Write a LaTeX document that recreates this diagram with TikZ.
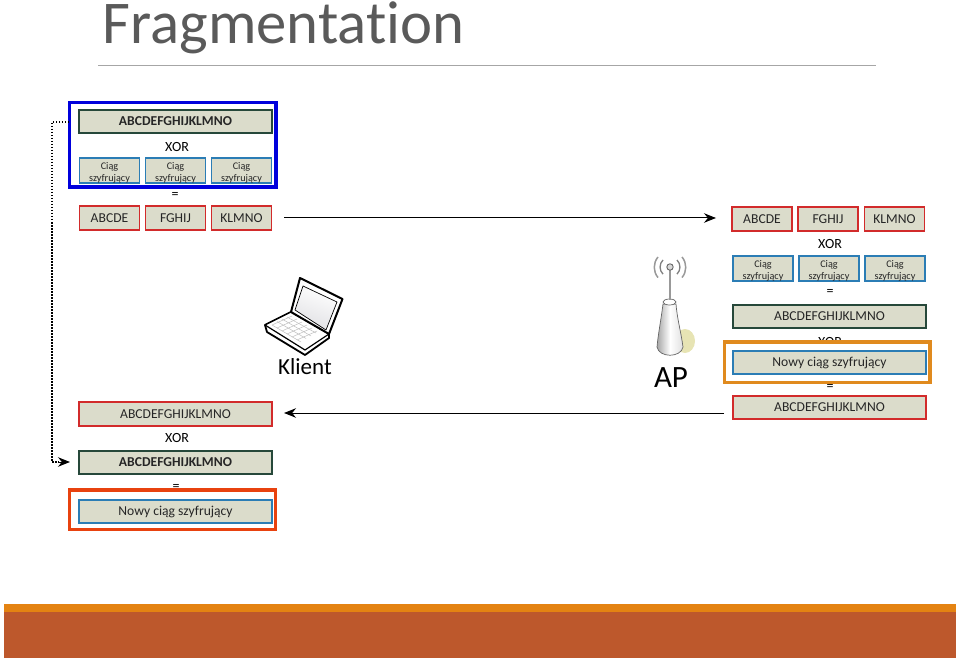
\documentclass[tikz,border=0pt]{standalone}
\usepackage{fontspec}
\setmainfont[Ligatures=NoCommon]{Carlito}
\usetikzlibrary{arrows.meta}
\definecolor{boxfill}{HTML}{DBDCCB}
\definecolor{gborder}{HTML}{26483A}
\definecolor{rborder}{HTML}{D22B2B}
\definecolor{bborder}{HTML}{2B7DB5}
\definecolor{bandtop}{HTML}{E48312}
\definecolor{bandlow}{HTML}{BD582C}
\definecolor{titlecol}{HTML}{5A5A5A}
\definecolor{framered}{HTML}{E8420F}
\definecolor{frameorange}{HTML}{E08A1E}
\definecolor{frameblue}{HTML}{0000DC}
\tikzset{
  bx/.style={draw,fill=boxfill,line width=1.7pt,minimum width=#1,minimum height=23.5pt,inner sep=0pt,text=black!85,font=\fontsize{13.6}{13.6}\selectfont,align=center},
  gbox/.style={bx=#1,draw=gborder,line width=2.2pt},
  rbox/.style={bx=#1,draw=rborder},
  cbox/.style={bx=#1,draw=bborder},
  ciag/.style={cbox=60pt,font=\fontsize{10.2}{12}\selectfont},
  lbl/.style={inner sep=0pt,text=black,font=\fontsize{14}{14}\selectfont},
  frame/.style={line width=3.2pt,fill=#1},
  conn/.style={line width=1pt,-{Stealth[length=12pt,width=9.5pt]}},
  bigl/.style={inner sep=0pt,text=black}
}
\newcommand{\cs}{\rule{0pt}{11pt}Ciąg\\szyfrujący}
\begin{document}
\begin{tikzpicture}[x=1pt,y=-1pt]
\useasboundingbox (0,0) rectangle (960,660);
% title
\node[anchor=base west,inner sep=0pt,text=titlecol,font=\fontsize{60.7}{61}\selectfont] (title) at (102.5,44) {Fragmentation};
\coordinate (ruleL) at (98,65.5); \coordinate (ruleR) at (876,65.5);
\draw[black!35,line width=0.7pt] (ruleL) -- (ruleR);
% bottom band
\fill[bandtop] (4,604) rectangle (956,611.5);
\fill[bandlow] (4,611.5) rectangle (956,658);
% top-left group
\draw[frameblue,line width=3.2pt] (69.5,102.5) rectangle (276,187);
\node[gbox=193pt] (lkey) at (175.5,121.5) {\textbf{ABCDEFGHIJKLMNO}};
\node[lbl] (lxor1) at (177,147) {XOR};
\node[ciag] (lc1) at (109.5,170.5) {\cs};
\node[ciag] (lc2) at (175.5,170.5) {\cs};
\node[ciag] (lc3) at (241.5,170.5) {\cs};
\node[lbl] (leq1) at (175,195) {=};
\node[rbox=60pt] (lr1) at (109.5,218) {ABCDE};
\node[rbox=60pt] (lr2) at (175.5,218) {FGHIJ};
\node[rbox=60pt] (lr3) at (241.5,218) {KLMNO};
% bottom-left group
\node[rbox=193pt] (lres) at (175.5,414) {ABCDEFGHIJKLMNO};
\node[lbl] (lxor2) at (177,438) {XOR};
\node[gbox=193pt] (lkey2) at (175.5,462.5) {\textbf{ABCDEFGHIJKLMNO}};
\node[lbl] (leq2) at (176,487) {=};
\draw[frame=white,draw=framered] (69.5,490) rectangle (275.5,529.5);
\node[cbox=193pt] (lnew) at (175.5,511.5) {Nowy ciąg szyfrujący};
% right group
\node[rbox=60pt] (rr1) at (762,219) {ABCDE};
\node[rbox=60pt] (rr2) at (828,219) {FGHIJ};
\node[rbox=60pt] (rr3) at (894.5,219) {KLMNO};
\node[lbl] (rxor1) at (830,244) {XOR};
\node[ciag] (rc1) at (763,268.5) {\cs};
\node[ciag] (rc2) at (829,268.5) {\cs};
\node[ciag] (rc3) at (895,268.5) {\cs};
\node[lbl] (req1) at (830,292) {=};
\node[gbox=193pt] (rkey) at (829.5,316.5) {ABCDEFGHIJKLMNO};
\node[lbl] (rxor2) at (830,342) {XOR};
\draw[frame=white,draw=frameorange] (724.5,342) rectangle (930,382.5);
\node[cbox=193pt] (rnew) at (829.5,362.5) {Nowy ciąg szyfrujący};
\node[lbl] (req2) at (830,387) {=};
\node[rbox=193pt] (rres) at (829.5,407.5) {ABCDEFGHIJKLMNO};
% connectors
\coordinate (a1s) at (284,218); \coordinate (a1e) at (716,218);
\coordinate (a2s) at (724,413); \coordinate (a2e) at (284,413);
\draw[conn] (a1s) -- (a1e);
\draw[conn] (a2s) -- (a2e);
\coordinate (d1) at (69,122); \coordinate (d2) at (52,122);
\coordinate (d3) at (52,462); \coordinate (d5) at (59,462); \coordinate (d4) at (70,462);
\draw[line width=1.3pt,dash pattern=on 1.5pt off 1.5pt] (d1) -- (d2) -- (d3) -- (d5);
\draw[conn] (d5) -- (d4);
% laptop
\begin{scope}[line join=round]
\draw[black,fill=white,line width=1.8pt] (265,325) -- (267,332) -- (305,355) -- (329,338) -- (329,334) -- (291,312) -- cycle;
\draw[black,fill=white,line width=1.2pt] (265,325) -- (291,312) -- (329,334) -- (305,350) -- cycle;
\draw[black!25,line width=.5pt] (272,325) -- (292,316) (277,328) -- (297,319) (282,331) -- (302,322) (287,334) -- (307,325) (292,337) -- (312,328) (297,340) -- (317,331);
\draw[black!25,line width=.5pt] (272,325) -- (301,342) (277,321.5) -- (306,338.5) (282,319) -- (311,336) (287,317) -- (316,333);
\draw[black,fill=white,line width=2pt] (300,278) -- (342.5,299) -- (329,334) -- (291,312) -- cycle;
\shade[top color=white,bottom color=blue!12!black!12,shading angle=-20] (303,286) -- (337,302) -- (326,330) -- (295,310) -- cycle;
\draw[black,line width=.7pt] (303,286) -- (337,302) -- (326,330) -- (295,310) -- cycle;
\end{scope}
\node[bigl,font=\fontsize{23}{23}\selectfont] (klient) at (305,367) {Klient};
% AP
\fill[olive!22!white] (685,341) ellipse (10pt and 12pt);
\draw[black!60,line width=.7pt,left color=black!35,right color=black!12,middle color=white]
  (663,304) .. controls (661,320) and (658,335) .. (657,347) .. controls (659,358) and (681,358) .. (683,347) .. controls (681,332) and (677,318) .. (676,304) -- cycle;
\draw[black!60,fill=white,line width=.7pt] (669.5,302) ellipse (6.5pt and 3pt);
\draw[black!40,line width=2pt] (670,269) -- (670,300);
\draw[black!60,fill=black!15,line width=.9pt] (670,267) circle (3.2pt);
\draw[black!50,line width=1.3pt] (663,260) arc[start angle=135,end angle=225,radius=10pt]
  (677,260) arc[start angle=45,end angle=-45,radius=10pt];
\draw[black!40,line width=1.5pt] (658,257) arc[start angle=140,end angle=220,radius=16pt]
  (682,257) arc[start angle=40,end angle=-40,radius=16pt];
\node[bigl,font=\fontsize{31}{31}\selectfont] (ap) at (671,378) {AP};
\end{tikzpicture}
\end{document}
